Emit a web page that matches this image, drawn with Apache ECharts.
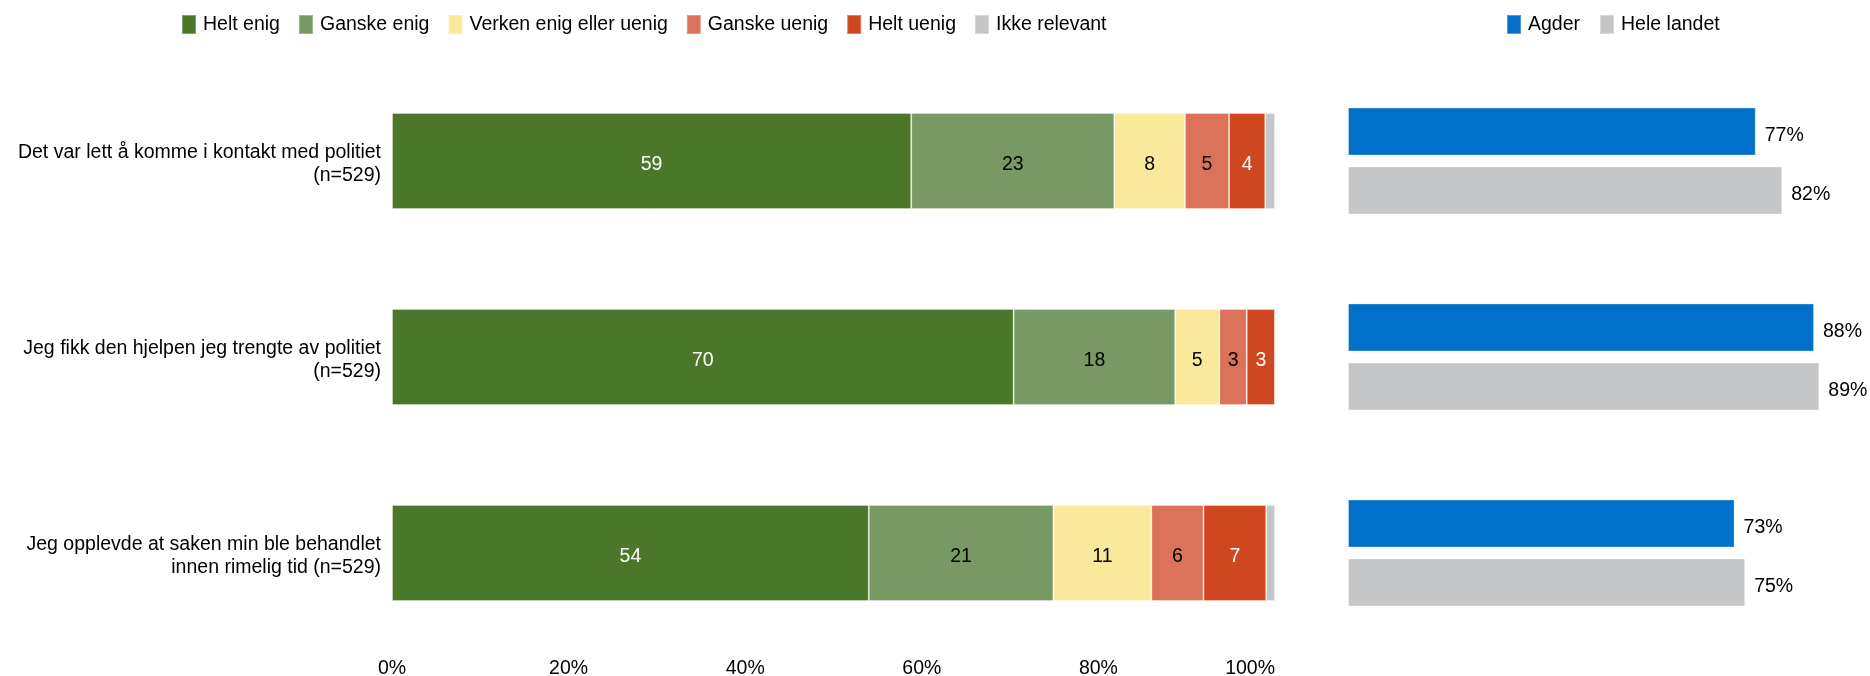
<!DOCTYPE html>
<html>
<head>
<meta charset="utf-8">
<script src="https://cdn.jsdelivr.net/npm/echarts@6/dist/echarts.min.js"></script>
<style>
html,body{margin:0;padding:0;background:#fff;}
#chart{width:1870px;height:676px;}
</style>
</head>
<body>
<div id="chart"></div>
<script>
var categories = [
  'Det var lett å komme i kontakt med politiet\n(n=529)',
  'Jeg fikk den hjelpen jeg trengte av politiet\n(n=529)',
  'Jeg opplevde at saken min ble behandlet\ninnen rimelig tid (n=529)'
];
var answerNames = ['Helt enig', 'Ganske enig', 'Verken enig eller uenig', 'Ganske uenig', 'Helt uenig', 'Ikke relevant'];
var heltEnig = [58.8, 70.4, 54.0];
var ganskeEnig = [23.0, 18.3, 20.9];
var verken = [8.0, 5.0, 11.1];
var ganskeUenig = [5.0, 3.1, 5.9];
var heltUenig = [4.1, 3.2, 7.1];
var ikkeRelevant = [1.1, 0, 1.0];
var xTickLabels = ['0%', '20%', '40%', '60%', '80%', '100%'];
var regionNames = ['Agder', 'Hele landet'];
var agder = [77, 88, 73];
var heleLandet = [82, 89, 75];

var answerValues = [heltEnig, ganskeEnig, verken, ganskeUenig, heltUenig, ikkeRelevant];
var answerColors = ['#4a772a', '#789963', '#fae89b', '#dc7259', '#d0461f', '#c5c6c8'];
var labelColors = ['#ffffff', '#000000', '#000000', '#000000', '#ffffff', '#000000'];
var FONT = "'Liberation Sans', Arial, sans-serif";
var FS = 19.5;

var series = answerNames.map(function (name, i) {
  return {
    name: name,
    type: 'bar',
    stack: 'total',
    xAxisIndex: 0,
    yAxisIndex: 0,
    barWidth: 96,
    data: answerValues[i],
    itemStyle: { color: answerColors[i], borderColor: 'rgba(255,255,255,0.3)', borderWidth: 1 },
    label: {
      show: i < 5,
      position: 'inside',
      offset: [0, 4],
      color: labelColors[i],
      fontFamily: FONT,
      fontSize: FS,
      formatter: function (p) { return p.value > 0 ? Math.round(p.value) : ''; }
    },
    emphasis: { disabled: true }
  };
});

var regionData = [agder, heleLandet];
var regionColors = ['#0070c9', '#c5c6c8'];
regionNames.forEach(function (name, i) {
  series.push({
    name: name,
    type: 'bar',
    xAxisIndex: 1,
    yAxisIndex: 1,
    barWidth: 48,
    barGap: '23%',
    data: regionData[i],
    itemStyle: { color: regionColors[i], borderColor: 'rgba(255,255,255,0.3)', borderWidth: 1 },
    label: {
      show: true,
      position: 'right',
      distance: 9,
      offset: [0, 4],
      color: '#000',
      fontFamily: FONT,
      fontSize: FS,
      formatter: '{c}%'
    },
    emphasis: { disabled: true }
  });
});

var chart = echarts.init(document.getElementById('chart'), null, { renderer: 'canvas' });
chart.setOption({
  animation: false,
  textStyle: { fontFamily: FONT },
  legend: [
    {
      data: answerNames,
      left: 176,
      top: 9,
      itemWidth: 14,
      itemHeight: 19,
      itemGap: 18,
      icon: 'rect',
      textStyle: { fontFamily: FONT, fontSize: FS, color: '#000', padding: [0, 0, 0, 2] }
    },
    {
      data: regionNames,
      left: 1501,
      top: 9,
      itemWidth: 14,
      itemHeight: 19,
      itemGap: 19,
      icon: 'rect',
      textStyle: { fontFamily: FONT, fontSize: FS, color: '#000', padding: [0, 0, 0, 2] }
    }
  ],
  grid: [
    { left: 392, width: 883, top: 63, height: 588, outerBoundsMode: 'none', containLabel: false },
    { left: 1348, width: 520, top: 63, height: 588, outerBoundsMode: 'none', containLabel: false }
  ],
  xAxis: [
    {
      type: 'value', gridIndex: 0, min: 0, max: 100, interval: 20,
      axisLine: { show: false }, axisTick: { show: false }, splitLine: { show: false },
      axisLabel: {
        fontFamily: FONT, fontSize: FS, color: '#000', margin: 8,
        alignMaxLabel: 'right',
        formatter: function (v) { return xTickLabels[Math.round(v / 20)]; }
      }
    },
    {
      type: 'value', gridIndex: 1, min: 0, max: 98.2, show: false
    }
  ],
  yAxis: [
    {
      type: 'category', gridIndex: 0, data: categories, inverse: true,
      axisLine: { show: false }, axisTick: { show: false },
      axisLabel: {
        fontFamily: FONT, fontSize: FS, color: '#000', margin: 11, align: 'right',
        formatter: function (v) {
          return '{s| }\n' + v.split('\n').map(function (l) { return '{a|' + l + '}'; }).join('\n');
        },
        rich: {
          s: { fontSize: 4, lineHeight: 7 },
          a: { fontFamily: FONT, fontSize: FS, color: '#000', lineHeight: 23, align: 'right' }
        }
      }
    },
    {
      type: 'category', gridIndex: 1, data: categories, inverse: true, show: false
    }
  ],
  series: series
});
</script>
</body>
</html>
